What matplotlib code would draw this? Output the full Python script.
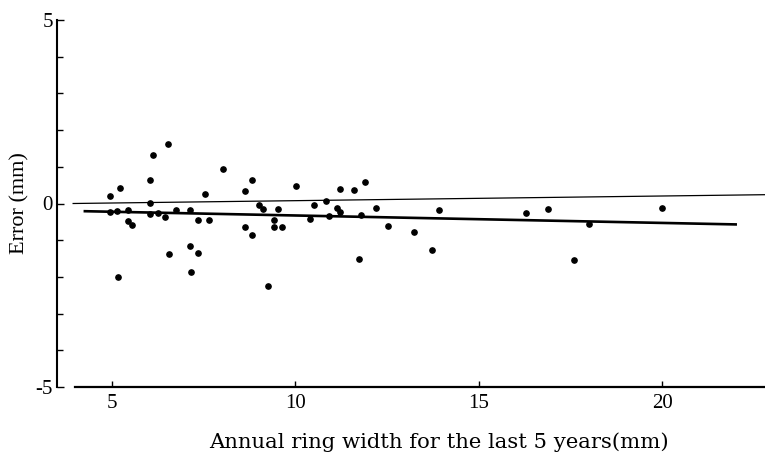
import matplotlib.pyplot as plt
import numpy as np

# 측정값 (연륜폭 vs 오차)
ring_width = [4.94, 5.23, 4.94, 5.14, 5.43, 5.44, 5.54, 5.16, 6.03, 6.12,
              6.52, 6.03, 6.04, 6.25, 6.44, 6.74, 7.13, 6.54, 7.13, 7.34,
              7.15, 7.34, 7.53, 7.64, 8.02, 8.62, 8.81, 9.02, 9.12, 8.63,
              8.82, 9.42, 9.42, 9.62, 9.52, 9.24, 10.01, 10.41, 10.51, 10.82,
              10.92, 11.12, 11.21, 11.21, 11.60, 11.89, 11.80, 12.20, 11.72, 12.51,
              13.22, 13.72, 13.90, 16.29, 16.89, 18.00, 17.60, 19.98]
error = [0.21, 0.42, -0.22, -0.21, -0.19, -0.48, -0.59, -1.99, 0.63, 1.33,
         1.63, 0.02, -0.28, -0.27, -0.37, -0.17, -0.17, -1.37, -1.16, -1.36,
         -1.86, -0.46, 0.25, -0.45, 0.95, 0.35, 0.65, -0.05, -0.14, -0.65,
         -0.85, -0.44, -0.63, -0.63, -0.14, -2.24, 0.47, -0.43, -0.03, 0.07,
         -0.33, -0.12, -0.22, 0.39, 0.38, 0.59, -0.30, -0.12, -1.52, -0.60,
         -0.79, -1.28, -0.19, -0.26, -0.16, -0.55, -1.55, -0.13]

# 회귀선, 기준선 (그림에서 읽은 양 끝점)
reg_x = [4.26, 22.0]
reg_y = [-0.21, -0.57]
zero_x = [3.94, 22.8]
zero_y = [0.0, 0.24]

plt.rcParams['font.family'] = ['Liberation Serif', 'DejaVu Serif']

fig = plt.figure(figsize=(7.65, 4.59), dpi=100)
ax = fig.add_axes([57/765, 72/459, 708/765, 367/459])

ax.plot(zero_x, zero_y, color='black', linewidth=0.9, clip_on=False)
ax.plot(reg_x, reg_y, color='black', linewidth=1.9)
ax.plot(ring_width, error, 'o', color='black', markersize=3.8, linestyle='none')

ax.set_xlim(3.5, 22.8)
ax.set_ylim(-5, 5)

# 축 모양
ax.spines['top'].set_visible(False)
ax.spines['right'].set_visible(False)
ax.spines['left'].set_linewidth(1.5)
ax.spines['bottom'].set_linewidth(1.6)
ax.spines['bottom'].set_bounds(3.99, 22.8)

ax.set_xticks([5, 10, 15, 20])
ax.set_yticks([-5, 0, 5])
ax.set_yticks(np.arange(-5, 6, 1), minor=True)
ax.tick_params(axis='both', which='both', direction='in', width=1.0, labelsize=15)
ax.tick_params(axis='y', which='major', length=5, pad=3)
ax.tick_params(axis='y', which='minor', length=4)
ax.tick_params(axis='x', which='major', length=4, pad=5)
ax.set_yticklabels(['-5', '0', '5'])

ax.set_xlabel('Annual ring width for the last 5 years(mm)', fontsize=15.2,
              family='DejaVu Serif', labelpad=14, x=0.54)
ax.set_ylabel('Error (mm)', fontsize=16, labelpad=4)

fig.savefig('out.png', dpi=100)
